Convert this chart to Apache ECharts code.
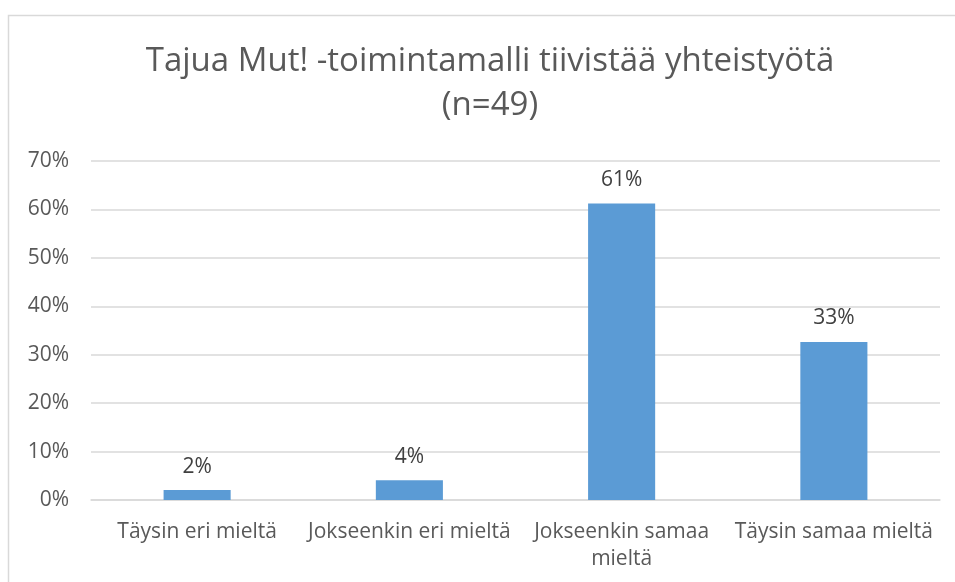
<!DOCTYPE html>
<html style="height: 100%;">
  <head>
    <meta charset="utf-8" />
  </head>
  <body style="height: 100%; margin: 0; background: #fff;">
    <div id="container" style="width: 955px; height: 582px;"></div>
    <script src="https://cdn.jsdelivr.net/npm/echarts@6/dist/echarts.min.js"></script>
    <script type="text/javascript">
      var categories = [
        "Täysin eri mieltä",
        "Jokseenkin eri mieltä",
        "Jokseenkin samaa\nmieltä",
        "Täysin samaa mieltä",
      ];
      // share of answers in percent (n=49)
      var shares = [2.04, 4.08, 61.22, 32.65];
      var yTicks = [0, 10, 20, 30, 40, 50, 60, 70];

      var font = "Open Sans";
      var dom = document.getElementById("container");
      var myChart = echarts.init(dom);

      var option = {
        animation: false,
        backgroundColor: "#fff",
        title: {
          text: "Tajua Mut! -toimintamalli tiivistää yhteistyötä\n(n=49)",
          left: 485,
          textAlign: "center",
          top: 35,
          textStyle: {
            fontFamily: font,
            fontWeight: "normal",
            fontSize: 33,
            lineHeight: 44,
            color: "#595959",
          },
        },
        graphic: [
          {
            type: "rect",
            shape: { x: 8.5, y: 15.5, width: 960, height: 600 },
            style: { fill: "none", stroke: "#d9d9d9", lineWidth: 1.5 },
            silent: true,
          },
        ],
        grid: { left: 91, right: 15, top: 161, bottom: 82 },
        xAxis: {
          type: "category",
          data: categories,
          axisLine: { lineStyle: { color: "#d9d9d9", width: 1.5 } },
          axisTick: { show: false },
          axisLabel: {
            interval: 0,
            margin: 19,
            fontFamily: font,
            fontSize: 21,
            lineHeight: 27,
            color: "#595959",
          },
        },
        yAxis: {
          type: "value",
          min: yTicks[0],
          max: yTicks[yTicks.length - 1],
          interval: 10,
          axisLine: { show: false },
          axisTick: { show: false },
          splitLine: { lineStyle: { color: "#d9d9d9", width: 1.5 } },
          axisLabel: {
            margin: 22,
            fontFamily: font,
            fontSize: 21,
            color: "#595959",
            formatter: function (v) {
              return v + "%";
            },
          },
        },
        series: [
          {
            type: "bar",
            data: shares,
            barWidth: "31.6%",
            itemStyle: { color: "#5b9bd5" },
            label: {
              show: true,
              position: "top",
              distance: 13,
              fontFamily: font,
              fontSize: 21,
              color: "#404040",
              formatter: function (p) {
                return Math.round(p.value) + "%";
              },
            },
          },
        ],
      };

      myChart.setOption(option);
    </script>
  </body>
</html>
